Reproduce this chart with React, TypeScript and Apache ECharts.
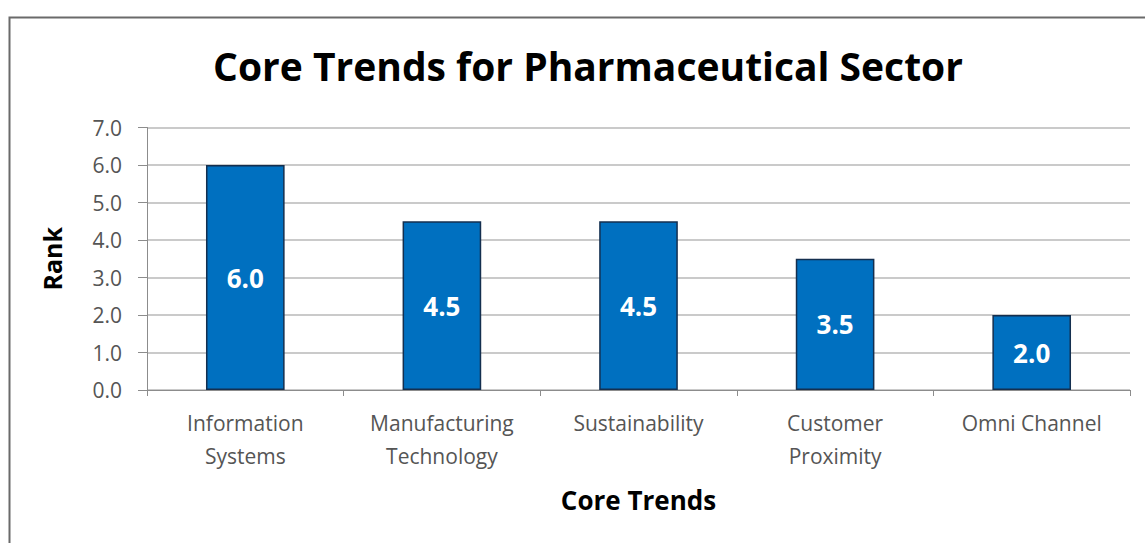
import React, { useEffect, useRef } from "react";
import * as echarts from "echarts";

const categories = ["Information\nSystems", "Manufacturing\nTechnology", "Sustainability", "Customer\nProximity", "Omni Channel"];
const values = [6.0, 4.5, 4.5, 3.5, 2.0];
const titleText = "Core Trends for Pharmaceutical Sector";
const xName = "Core Trends";
const yName = "Rank";

export default function App() {
  const ref = useRef<HTMLDivElement>(null);
  useEffect(() => {
    document.body.style.margin = "0";
    const chart = echarts.init(ref.current!, null, { renderer: "svg" });
    const font = "'Open Sans', 'Noto Sans', sans-serif";
    chart.setOption({
      animation: false,
      backgroundColor: "#ffffff",
      textStyle: { fontFamily: font },
      title: {
        text: titleText,
        left: 583,
        top: 41,
        textAlign: "center",
        textStyle: { fontSize: 39, fontWeight: "bold", color: "#000", fontFamily: font },
      },
      graphic: [
        {
          type: "polyline",
          shape: { points: [[9.5, 560], [9.5, 17.5], [1160, 17.5]] },
          style: { stroke: "#6a6a6a", lineWidth: 2, fill: "none" },
          silent: true,
        },
      ],
      grid: { left: 147, right: 15, top: 127.5, bottom: 153, containLabel: false },
      xAxis: {
        type: "category",
        data: categories,
        name: xName,
        nameLocation: "middle",
        nameGap: 97,
        nameTextStyle: { fontSize: 26, fontWeight: "bold", color: "#000", fontFamily: font },
        axisLine: { lineStyle: { color: "#8c8c8c", width: 1 } },
        axisTick: { show: true, alignWithLabel: false, length: 6, lineStyle: { color: "#8c8c8c" } },
        axisLabel: { fontSize: 21, color: "#555", lineHeight: 33, margin: 16, interval: 0 },
      },
      yAxis: {
        type: "value",
        min: 0,
        max: 7,
        interval: 1,
        name: yName,
        nameLocation: "middle",
        nameGap: 83,
        nameTextStyle: { fontSize: 25, fontWeight: "bold", color: "#000", fontFamily: font },
        axisLine: { show: true, lineStyle: { color: "#8c8c8c", width: 1 } },
        axisTick: { show: true, length: 9, lineStyle: { color: "#8c8c8c" } },
        axisLabel: { fontSize: 21, color: "#555", margin: 25, formatter: (v: number) => v.toFixed(1) },
        splitLine: { lineStyle: { color: "#b8b8b8", width: 1.5 } },
      },
      series: [
        {
          type: "bar",
          data: values,
          barWidth: "40%",
          itemStyle: { color: "#0070c0", borderColor: "#142f4f", borderWidth: 1.5 },
          label: {
            show: true,
            position: "inside",
            formatter: (p: any) => p.value.toFixed(1),
            color: "#ffffff",
            fontSize: 26,
            fontWeight: "bold",
            fontFamily: font,
          },
        },
      ],
    });
    return () => chart.dispose();
  }, []);
  return <div ref={ref} style={{ width: 1145, height: 543 }} />;
}
